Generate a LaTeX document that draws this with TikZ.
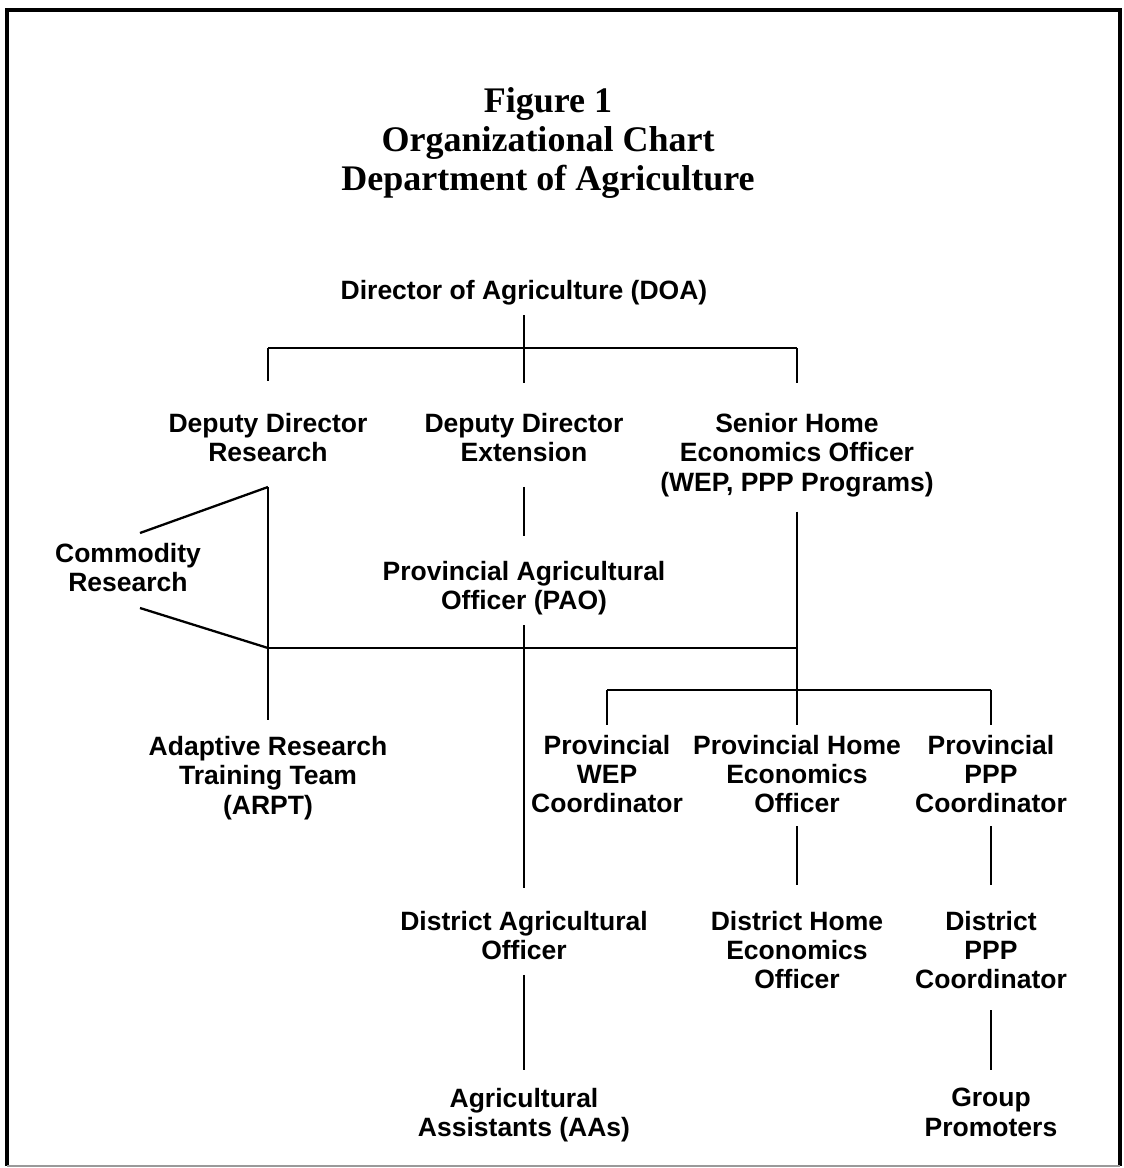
\documentclass[tikz,border=0pt]{standalone}
\usepackage{fontspec}
\setmainfont{Liberation Serif}
\setsansfont{Liberation Sans}
\usepackage{tikz}
\usetikzlibrary{positioning}

\begin{document}
\begin{tikzpicture}[x=1pt, y=-1pt]
% Define styles
\tikzstyle{unit} = [inner sep=0pt, outer sep=0pt, align=center, font=\fontsize{26.5}{29.3}\selectfont\sffamily\bfseries]
\tikzstyle{heading} = [inner sep=0pt, align=center, font=\fontsize{36}{39}\selectfont\bfseries]
\tikzstyle{link} = [line width=2.3pt]

\useasboundingbox (0,0) rectangle (1124,1168);
\draw [line width=4pt] (7,1166) -- (7,10) -- (1120,10) -- (1120,1166);
\draw [line width=1.5pt, black!40] (7,1166) -- (1120,1166);

% Define nodes
\node (title) [heading] at (548,143) {Figure 1\\Organizational Chart\\Department of Agriculture};
\node (doa) [unit] at (524,293) {Director of Agriculture (DOA)};
\node (ddr) [unit] at (268,437.5) {Deputy Director\\Research};
\node (dde) [unit] at (524,437.5) {Deputy Director\\Extension};
\node (sheo) [unit] at (797,455) {Senior Home\\Economics Officer\\(WEP, PPP Programs)};
\node (com) [unit] at (128,567.5) {Commodity\\Research};
\node (pao) [unit] at (524,588) {Provincial Agricultural\\Officer (PAO)};
\node (arpt) [unit] at (268,778) {Adaptive Research\\Training Team\\(ARPT)};
\node (pwep) [unit] at (607,774) {Provincial\\WEP\\Coordinator};
\node (phe) [unit] at (797,774) {Provincial Home\\Economics\\Officer};
\node (pppp) [unit] at (991,774) {Provincial\\PPP\\Coordinator};
\node (dao) [unit] at (524,935.5) {District Agricultural\\Officer};
\node (dhe) [unit] at (797,950) {District Home\\Economics\\Officer};
\node (dppp) [unit] at (991,950) {District\\PPP\\Coordinator};
\node (aas) [unit] at (524,1115) {Agricultural\\Assistants (AAs)};
\node (gp) [unit] at (991,1112.5) {Group\\Promoters};

% Junctions
\coordinate (topbar) at (524,348);
\coordinate (topL) at (268,348);
\coordinate (topR) at (797,348);
\coordinate (apex) at (268,487);
\coordinate (comUp) at (140,533);
\coordinate (comLow) at (140,608);
\coordinate (midL) at (268,648);
\coordinate (midR) at (797,648);
\coordinate (lowL) at (607,690);
\coordinate (lowR) at (991,690);

% Draw connectors
\draw [link, shorten <=10pt] (doa) -- (topbar);
\draw [link] (topL) -- (topR);
\draw [link, shorten >=32pt] (topL) -- (ddr);
\draw [link, shorten >=30pt] (topbar) -- (dde);
\draw [link, shorten >=30pt] (topR) -- (sheo);
\draw [link, shorten <=25pt, shorten >=16pt] (ddr) -- (arpt);
\draw [link] (comUp) -- (apex);
\draw [link] (comLow) -- (midL);
\draw [link] (midL) -- (midR);
\draw [link, shorten <=25pt, shorten >=25pt] (dde) -- (pao);
\draw [link, shorten <=10pt, shorten >=23pt] (pao) -- (dao);
\draw [link, shorten <=15pt, shorten >=10pt] (sheo) -- (phe);
\draw [link] (lowL) -- (lowR);
\draw [link, shorten >=10pt] (lowL) -- (pwep);
\draw [link, shorten >=10pt] (lowR) -- (pppp);
\draw [link, shorten <=13pt, shorten >=26pt] (phe) -- (dhe);
\draw [link, shorten <=13pt, shorten >=26pt] (pppp) -- (dppp);
\draw [link, shorten <=15pt, shorten >=18pt] (dao) -- (aas);
\draw [link, shorten <=21pt, shorten >=18pt] (dppp) -- (gp);
\end{tikzpicture}
\end{document}
